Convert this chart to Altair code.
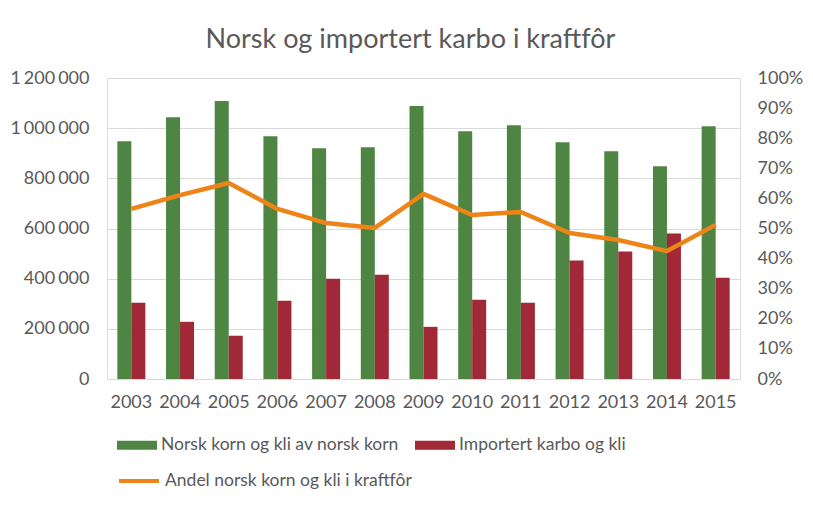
import altair as alt
import pandas as pd

years = ["2003", "2004", "2005", "2006", "2007", "2008", "2009", "2010", "2011", "2012", "2013", "2014", "2015"]
norsk = [948000, 1044000, 1108000, 968000, 920000, 924000, 1088000, 988000, 1012000, 944000, 908000, 848000, 1008000]
importert = [304000, 228000, 172000, 312000, 400000, 416000, 208000, 316000, 304000, 472000, 508000, 580000, 404000]
andel = [0.565, 0.611, 0.651, 0.565, 0.518, 0.502, 0.615, 0.545, 0.555, 0.485, 0.462, 0.425, 0.512]

s_norsk = "Norsk korn og kli av norsk korn"
s_imp = "Importert karbo og kli"
s_andel = "Andel norsk korn og kli i kraftfôr"

bars_df = pd.DataFrame(
    {"year": years * 2,
     "serie": [s_norsk] * len(years) + [s_imp] * len(years),
     "value": norsk + importert}
)
line_df = pd.DataFrame({"year": years, "andel": andel, "serie": [s_andel] * len(years)})

FONT = "Lato"
GRAY = "#595959"
GREEN = "#4E8542"
RED = "#A02837"
ORANGE = "#EE8317"

xscale = alt.Scale(paddingInner=0.425, paddingOuter=0.2125)

bars = alt.Chart(bars_df).mark_bar().encode(
    x=alt.X("year:N", scale=xscale, sort=years,
            axis=alt.Axis(title=None, labelAngle=0, domain=False, ticks=False, tickSize=0,
                          labelPadding=14, labelFont=FONT, labelFontSize=18, labelColor=GRAY)),
    xOffset=alt.XOffset("serie:N", sort=[s_norsk, s_imp], scale=alt.Scale(paddingInner=0, paddingOuter=0)),
    y=alt.Y("value:Q", scale=alt.Scale(domain=[0, 1200000]),
            axis=alt.Axis(title=None, values=[0, 200000, 400000, 600000, 800000, 1000000, 1200000],
                          labelExpr="replace(format(datum.value, ','), regexp(',', 'g'), '\u2006')",
                          domain=False, ticks=False, tickSize=0, labelPadding=18,
                          grid=True, gridColor="#D9D9D9", gridWidth=1,
                          labelFont=FONT, labelFontSize=18, labelColor=GRAY)),
    fill=alt.Fill("serie:N", sort=[s_norsk, s_imp],
                  scale=alt.Scale(domain=[s_norsk, s_imp], range=[GREEN, RED]),
                  legend=alt.Legend(title=None, orient="none", legendX=10, legendY=347,
                                    direction="horizontal", padding=0,
                                    symbolType="M-1,-0.22L1,-0.22L1,0.22L-1,0.22Z",
                                    symbolSize=1600, symbolStrokeWidth=0, symbolOpacity=1,
                                    labelOffset=4, columnPadding=16, labelLimit=400,
                                    labelFont=FONT, labelFontSize=17.5, labelColor=GRAY)),
)

line = alt.Chart(line_df).mark_line(strokeWidth=4.5, strokeJoin="round").encode(
    x=alt.X("year:N", scale=xscale, sort=years),
    y=alt.Y("andel:Q", scale=alt.Scale(domain=[0, 1]),
            axis=alt.Axis(title=None, orient="right", values=[i / 10 for i in range(11)],
                          format=".0%", domain=False, ticks=False, tickSize=0, labelPadding=17,
                          grid=False, labelFont=FONT, labelFontSize=18, labelColor=GRAY)),
    stroke=alt.Stroke("serie:N", scale=alt.Scale(domain=[s_andel], range=[ORANGE]),
                      legend=alt.Legend(title=None, orient="none", legendX=10, legendY=381,
                                        padding=0, symbolType="stroke", symbolSize=1600,
                                        symbolStrokeWidth=4, labelOffset=4, labelLimit=400,
                                        labelFont=FONT, labelFontSize=17.5, labelColor=GRAY)),
)

chart = alt.layer(bars, line).resolve_scale(y="independent").properties(
    width=633,
    height=301,
    autosize=alt.AutoSizeParams(type="none"),
    padding={"left": 99, "top": 70, "right": 65, "bottom": 115},
    title=alt.TitleParams("Norsk og importert karbo i kraftfôr", font=FONT, fontSize=27,
                          fontWeight="normal", color=GRAY, anchor="middle", dx=-13, offset=15),
).configure_view(stroke=None).configure(background="white")

chart.save("out.html", embed_options={"renderer": "svg", "actions": False})
